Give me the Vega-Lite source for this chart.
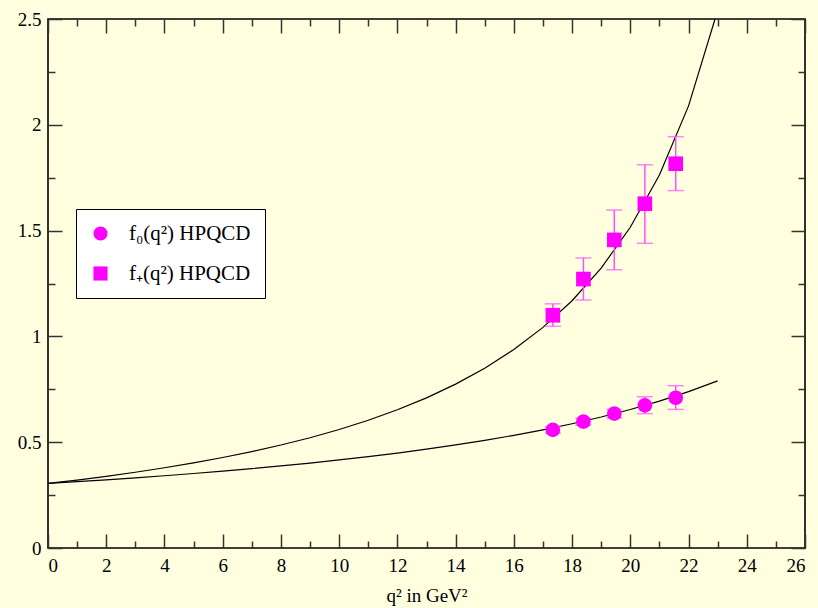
{
  "$schema": "https://vega.github.io/schema/vega-lite/v6.json",
  "autosize": "none",
  "width": 757,
  "height": 529,
  "padding": {"left": 48, "top": 19, "right": 13, "bottom": 60},
  "background": "#FFFFE0",
  "config": {
    "view": {"fill": "#FFFFE0", "stroke": "#000000", "strokeWidth": 1.6},
    "axis": {
      "grid": false,
      "domain": false,
      "tickColor": "#333333",
      "tickWidth": 1.5,
      "labelFont": "Liberation Serif",
      "labelFontSize": 19,
      "labelColor": "#000000",
      "titleFont": "Liberation Serif",
      "titleFontSize": 19,
      "titleFontWeight": "normal",
      "titleColor": "#000000"
    },
    "legend": {
      "labelFont": "Liberation Serif",
      "labelFontSize": 21,
      "labelColor": "#000000"
    }
  },
  "datasets": {
    "curves": [
      {"q2": 0, "f": 0.305, "curve": "fplus"},
      {"q2": 1, "f": 0.3212, "curve": "fplus"},
      {"q2": 2, "f": 0.3389, "curve": "fplus"},
      {"q2": 3, "f": 0.3581, "curve": "fplus"},
      {"q2": 4, "f": 0.3792, "curve": "fplus"},
      {"q2": 5, "f": 0.4022, "curve": "fplus"},
      {"q2": 6, "f": 0.4276, "curve": "fplus"},
      {"q2": 7, "f": 0.4556, "curve": "fplus"},
      {"q2": 8, "f": 0.4866, "curve": "fplus"},
      {"q2": 9, "f": 0.5212, "curve": "fplus"},
      {"q2": 10, "f": 0.5600, "curve": "fplus"},
      {"q2": 11, "f": 0.6036, "curve": "fplus"},
      {"q2": 12, "f": 0.6531, "curve": "fplus"},
      {"q2": 13, "f": 0.7095, "curve": "fplus"},
      {"q2": 14, "f": 0.7744, "curve": "fplus"},
      {"q2": 15, "f": 0.8497, "curve": "fplus"},
      {"q2": 16, "f": 0.9379, "curve": "fplus"},
      {"q2": 17, "f": 1.0427, "curve": "fplus"},
      {"q2": 18, "f": 1.1687, "curve": "fplus"},
      {"q2": 19, "f": 1.3230, "curve": "fplus"},
      {"q2": 20, "f": 1.5157, "curve": "fplus"},
      {"q2": 21, "f": 1.7626, "curve": "fplus"},
      {"q2": 22, "f": 2.0895, "curve": "fplus"},
      {"q2": 22.91, "f": 2.5, "curve": "fplus"},
      {"q2": 0, "f": 0.305, "curve": "fzero"},
      {"q2": 1, "f": 0.3134, "curve": "fzero"},
      {"q2": 2, "f": 0.3222, "curve": "fzero"},
      {"q2": 3, "f": 0.3316, "curve": "fzero"},
      {"q2": 4, "f": 0.3415, "curve": "fzero"},
      {"q2": 5, "f": 0.3520, "curve": "fzero"},
      {"q2": 6, "f": 0.3632, "curve": "fzero"},
      {"q2": 7, "f": 0.3751, "curve": "fzero"},
      {"q2": 8, "f": 0.3878, "curve": "fzero"},
      {"q2": 9, "f": 0.4015, "curve": "fzero"},
      {"q2": 10, "f": 0.4161, "curve": "fzero"},
      {"q2": 11, "f": 0.4318, "curve": "fzero"},
      {"q2": 12, "f": 0.4488, "curve": "fzero"},
      {"q2": 13, "f": 0.4671, "curve": "fzero"},
      {"q2": 14, "f": 0.4870, "curve": "fzero"},
      {"q2": 15, "f": 0.5087, "curve": "fzero"},
      {"q2": 16, "f": 0.5324, "curve": "fzero"},
      {"q2": 17, "f": 0.5584, "curve": "fzero"},
      {"q2": 18, "f": 0.5871, "curve": "fzero"},
      {"q2": 19, "f": 0.6189, "curve": "fzero"},
      {"q2": 20, "f": 0.6544, "curve": "fzero"},
      {"q2": 21, "f": 0.6941, "curve": "fzero"},
      {"q2": 22, "f": 0.7390, "curve": "fzero"},
      {"q2": 23, "f": 0.7901, "curve": "fzero"}
    ],
    "points": [
      {"q2": 17.34, "f": 0.558, "lo": 0.543, "hi": 0.573, "series": "f₀(q²) HPQCD"},
      {"q2": 18.39, "f": 0.597, "lo": 0.580, "hi": 0.614, "series": "f₀(q²) HPQCD"},
      {"q2": 19.45, "f": 0.635, "lo": 0.615, "hi": 0.655, "series": "f₀(q²) HPQCD"},
      {"q2": 20.50, "f": 0.674, "lo": 0.635, "hi": 0.715, "series": "f₀(q²) HPQCD"},
      {"q2": 21.56, "f": 0.710, "lo": 0.655, "hi": 0.767, "series": "f₀(q²) HPQCD"},
      {"q2": 17.34, "f": 1.100, "lo": 1.048, "hi": 1.154, "series": "f₊(q²) HPQCD"},
      {"q2": 18.39, "f": 1.271, "lo": 1.172, "hi": 1.371, "series": "f₊(q²) HPQCD"},
      {"q2": 19.45, "f": 1.456, "lo": 1.315, "hi": 1.597, "series": "f₊(q²) HPQCD"},
      {"q2": 20.50, "f": 1.627, "lo": 1.440, "hi": 1.811, "series": "f₊(q²) HPQCD"},
      {"q2": 21.56, "f": 1.816, "lo": 1.689, "hi": 1.944, "series": "f₊(q²) HPQCD"}
    ]
  },
  "resolve": {"axis": {"x": "independent", "y": "independent"}},
  "layer": [
    {
      "data": {"name": "curves"},
      "mark": {"type": "line", "color": "#000000", "strokeWidth": 1.2},
      "encoding": {
        "x": {"field": "q2", "type": "quantitative", "scale": {"domain": [0, 26], "nice": false},
          "axis": {"orient": "bottom", "values": [0,2,4,6,8,10,12,14,16,18,20,22,24,26], "tickSize": -14, "labelPadding": 22, "title": "q² in GeV²", "titlePadding": 11}},
        "y": {"field": "f", "type": "quantitative", "scale": {"domain": [0, 2.5], "nice": false},
          "axis": {"orient": "left", "values": [0,0.5,1,1.5,2,2.5], "format": "~g", "tickSize": -14, "labelPadding": 21, "title": null}},
        "detail": {"field": "curve"}
      }
    },
    {
      "data": {"name": "points"},
      "mark": {"type": "rule", "color": "#FF50FF", "strokeWidth": 1.5},
      "encoding": {
        "x": {"field": "q2", "type": "quantitative",
          "axis": {"orient": "top", "values": [0,2,4,6,8,10,12,14,16,18,20,22,24,26], "tickSize": -14, "labels": false, "title": null}},
        "y": {"field": "lo", "type": "quantitative",
          "axis": {"orient": "right", "values": [0,0.5,1,1.5,2,2.5], "tickSize": -14, "labels": false, "title": null}},
        "y2": {"field": "hi"}
      }
    },
    {
      "data": {"name": "points"},
      "mark": {"type": "tick", "orient": "horizontal", "color": "#FF50FF", "size": 16, "thickness": 1.5},
      "encoding": {
        "x": {"field": "q2", "type": "quantitative",
          "axis": {"orient": "bottom", "values": [1,3,5,7,9,11,13,15,17,19,21,23,25], "tickSize": -7, "labels": false, "title": null}},
        "y": {"field": "hi", "type": "quantitative",
          "axis": {"orient": "left", "values": [0.25,0.75,1.25,1.75,2.25], "tickSize": -7, "labels": false, "title": null}}
      }
    },
    {
      "data": {"name": "points"},
      "mark": {"type": "tick", "orient": "horizontal", "color": "#FF50FF", "size": 16, "thickness": 1.5},
      "encoding": {
        "x": {"field": "q2", "type": "quantitative",
          "axis": {"orient": "top", "values": [1,3,5,7,9,11,13,15,17,19,21,23,25], "tickSize": -7, "labels": false, "title": null}},
        "y": {"field": "lo", "type": "quantitative",
          "axis": {"orient": "right", "values": [0.25,0.75,1.25,1.75,2.25], "tickSize": -7, "labels": false, "title": null}}
      }
    },
    {
      "data": {"name": "points"},
      "mark": {"type": "point", "filled": true, "opacity": 1, "color": "#FF00FF", "size": 215},
      "encoding": {
        "x": {"field": "q2", "type": "quantitative", "axis": null},
        "y": {"field": "f", "type": "quantitative", "axis": null},
        "shape": {"field": "series", "type": "nominal",
          "scale": {"domain": ["f₀(q²) HPQCD", "f₊(q²) HPQCD"], "range": ["circle", "square"]},
          "legend": {"title": null, "orient": "none", "legendX": 28, "legendY": 190,
            "fillColor": "#FFFFFF", "strokeColor": "#000000", "cornerRadius": 0,
            "padding": 14, "symbolSize": 200, "symbolFillColor": "#FF00FF", "symbolStrokeColor": "#FF00FF",
            "symbolStrokeWidth": 0, "labelOffset": 18, "rowPadding": 18, "labelFontSize": 21,
            "encode": {"legend": {"update": {"strokeWidth": {"value": 1.2}}}}}}
      }
    }
  ]
}
